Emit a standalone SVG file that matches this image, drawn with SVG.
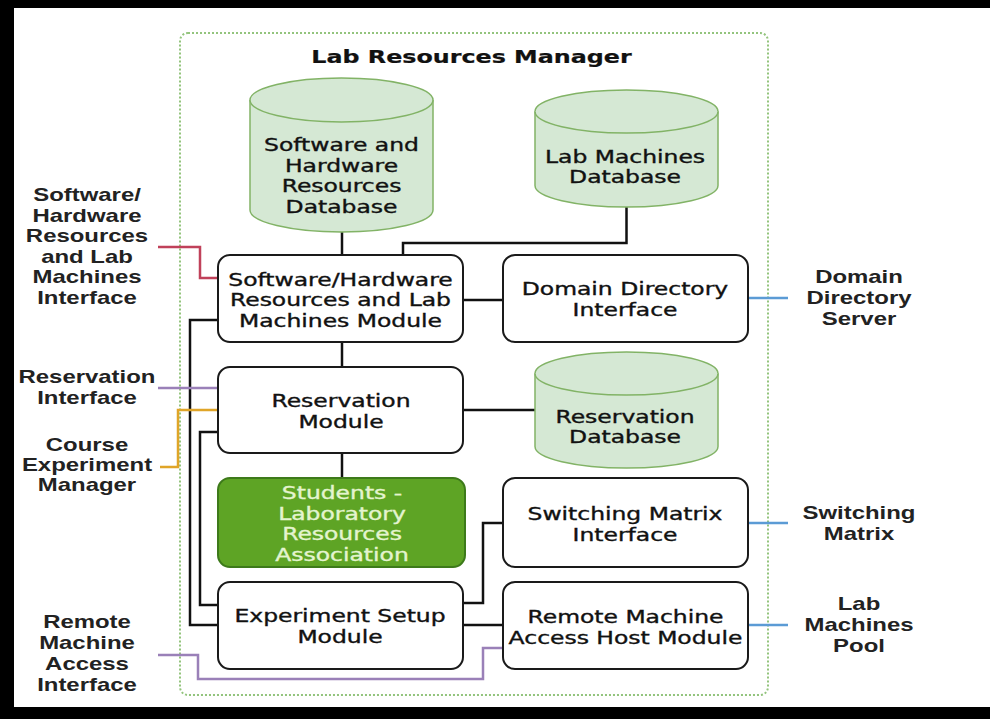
<svg xmlns="http://www.w3.org/2000/svg" width="990" height="719" viewBox="0 0 990 719">
<style>
.frame{fill:#000}
.cont{fill:none;stroke:#93c47d;stroke-width:2;stroke-dasharray:2 2}
.db{fill:#d5e8d4;stroke:#82b366;stroke-width:1.5}
.box{fill:#fff;stroke:#1a1a1a;stroke-width:2}
.green{fill:#5ea425;stroke:#3d7a1a;stroke-width:2}
.t{font-family:"DejaVu Sans",sans-serif;font-size:17px;fill:#111;stroke:#111;stroke-width:0.35;text-anchor:middle}
.tw{fill:#e4f4cf;stroke:#e4f4cf}
.title{font-weight:bold;stroke-width:0.2}
.lbl{font-family:"Liberation Sans",Arial,sans-serif;font-weight:bold;font-size:18px;fill:#222;text-anchor:middle}
.c{fill:none;stroke:#111;stroke-width:2.5}
.red{fill:none;stroke:#c0415a;stroke-width:2.5}
.pur{fill:none;stroke:#9a80b8;stroke-width:2.5}
.org{fill:none;stroke:#e0a528;stroke-width:2.5}
.blu{fill:none;stroke:#5b9bd5;stroke-width:2.5}
</style>
<rect width="990" height="719" fill="#fff"/>
<g id="frame">
<rect class="frame" x="0" y="0" width="990" height="8"/>
<rect class="frame" x="0" y="0" width="14" height="719"/>
<rect class="frame" x="0" y="707" width="990" height="12"/>
</g>
<g id="container">
<rect class="cont" x="180" y="33" width="588" height="662" rx="8"/>
<text class="t title" transform="translate(471.5,0) scale(1.4,1)"><tspan x="0" y="63">Lab Resources Manager</tspan></text>
</g>
<g id="connectors">
<path class="c" d="M342,232V255"/>
<path class="c" d="M626.5,207V243H403V255"/>
<path class="c" d="M463,300H503"/>
<path class="c" d="M342,342V367"/>
<path class="c" d="M463,410H535"/>
<path class="c" d="M342,453V478"/>
<path class="c" d="M218,320H190V625H218"/>
<path class="c" d="M218,432H200V605H218"/>
<path class="c" d="M463,603H483V523H503"/>
<path class="c" d="M463,625H503"/>
<path class="red" d="M158,247H200V278H218"/>
<path class="pur" d="M158,388H218"/>
<path class="org" d="M160,467H178V410H218"/>
<path class="pur" d="M158,655H198V679H483V648H503"/>
<path class="blu" d="M748,298H788"/>
<path class="blu" d="M748,523H788"/>
<path class="blu" d="M748,625H788"/>
</g>
<g id="sw-hw-db">
<path class="db" d="M250,100A91.5,22 0 0,1 433,100V210A91.5,22 0 0,1 250,210Z"/>
<path class="db" fill="none" d="M250,100A91.5,22 0 0,0 433,100"/>
<text class="t" transform="translate(341.5,0) scale(1.38,1)"><tspan x="0" y="151">Software and</tspan><tspan x="0" y="171.7">Hardware</tspan><tspan x="0" y="192.4">Resources</tspan><tspan x="0" y="213">Database</tspan></text>
</g>
<g id="lab-machines-db">
<path class="db" d="M535,111.5A91.5,21.5 0 0,1 718,111.5V185.5A91.5,21.5 0 0,1 535,185.5Z"/>
<path class="db" fill="none" d="M535,111.5A91.5,21.5 0 0,0 718,111.5"/>
<text class="t" transform="translate(625,0) scale(1.38,1)"><tspan x="0" y="163">Lab Machines</tspan><tspan x="0" y="183.5">Database</tspan></text>
</g>
<g id="swhw-module">
<rect class="box" x="218" y="255" width="245" height="87" rx="12"/>
<text class="t" transform="translate(340.5,0) scale(1.38,1)"><tspan x="0" y="286">Software/Hardware</tspan><tspan x="0" y="306.5">Resources and Lab</tspan><tspan x="0" y="327">Machines Module</tspan></text>
</g>
<g id="domain-directory-interface">
<rect class="box" x="503" y="255" width="245" height="87" rx="12"/>
<text class="t" transform="translate(625,0) scale(1.38,1)"><tspan x="0" y="295">Domain Directory</tspan><tspan x="0" y="316">Interface</tspan></text>
</g>
<g id="reservation-module">
<rect class="box" x="218" y="367" width="245" height="86" rx="12"/>
<text class="t" transform="translate(341,0) scale(1.38,1)"><tspan x="0" y="407">Reservation</tspan><tspan x="0" y="428">Module</tspan></text>
</g>
<g id="reservation-db">
<path class="db" d="M535,373.5A91.5,21.5 0 0,1 718,373.5V446.5A91.5,21.5 0 0,1 535,446.5Z"/>
<path class="db" fill="none" d="M535,373.5A91.5,21.5 0 0,0 718,373.5"/>
<text class="t" transform="translate(625,0) scale(1.38,1)"><tspan x="0" y="423">Reservation</tspan><tspan x="0" y="443">Database</tspan></text>
</g>
<g id="students-association">
<rect class="green" x="218" y="478" width="247" height="89" rx="12"/>
<text class="t tw" transform="translate(342,0) scale(1.38,1)"><tspan x="0" y="499">Students -</tspan><tspan x="0" y="520">Laboratory</tspan><tspan x="0" y="540.5">Resources</tspan><tspan x="0" y="561">Association</tspan></text>
</g>
<g id="switching-matrix-interface">
<rect class="box" x="503" y="478" width="245" height="89" rx="12"/>
<text class="t" transform="translate(625,0) scale(1.38,1)"><tspan x="0" y="520">Switching Matrix</tspan><tspan x="0" y="541">Interface</tspan></text>
</g>
<g id="experiment-setup-module">
<rect class="box" x="218" y="582" width="245" height="87" rx="12"/>
<text class="t" transform="translate(340,0) scale(1.38,1)"><tspan x="0" y="622">Experiment Setup</tspan><tspan x="0" y="643">Module</tspan></text>
</g>
<g id="remote-machine-access-host">
<rect class="box" x="503" y="582" width="245" height="87" rx="12"/>
<text class="t" transform="translate(625.5,0) scale(1.38,1)"><tspan x="0" y="623">Remote Machine</tspan><tspan x="0" y="644.5">Access Host Module</tspan></text>
</g>
<g id="ext-swhw-interface">
<text class="lbl" transform="translate(87,0) scale(1.33,1)"><tspan x="0" y="201">Software/</tspan><tspan x="0" y="221.6">Hardware</tspan><tspan x="0" y="242.2">Resources</tspan><tspan x="0" y="262.8">and Lab</tspan><tspan x="0" y="283.4">Machines</tspan><tspan x="0" y="304">Interface</tspan></text>
</g>
<g id="ext-reservation-interface">
<text class="lbl" transform="translate(87,0) scale(1.33,1)"><tspan x="0" y="383">Reservation</tspan><tspan x="0" y="404">Interface</tspan></text>
</g>
<g id="ext-course-experiment-manager">
<text class="lbl" transform="translate(87,0) scale(1.33,1)"><tspan x="0" y="451">Course</tspan><tspan x="0" y="471">Experiment</tspan><tspan x="0" y="491">Manager</tspan></text>
</g>
<g id="ext-remote-machine-access-interface">
<text class="lbl" transform="translate(87,0) scale(1.33,1)"><tspan x="0" y="628">Remote</tspan><tspan x="0" y="649">Machine</tspan><tspan x="0" y="670">Access</tspan><tspan x="0" y="691">Interface</tspan></text>
</g>
<g id="ext-domain-directory-server">
<text class="lbl" transform="translate(859,0) scale(1.33,1)"><tspan x="0" y="283">Domain</tspan><tspan x="0" y="304">Directory</tspan><tspan x="0" y="325">Server</tspan></text>
</g>
<g id="ext-switching-matrix">
<text class="lbl" transform="translate(859,0) scale(1.33,1)"><tspan x="0" y="519">Switching</tspan><tspan x="0" y="540">Matrix</tspan></text>
</g>
<g id="ext-lab-machines-pool">
<text class="lbl" transform="translate(859,0) scale(1.33,1)"><tspan x="0" y="610">Lab</tspan><tspan x="0" y="631">Machines</tspan><tspan x="0" y="652">Pool</tspan></text>
</g>
</svg>
